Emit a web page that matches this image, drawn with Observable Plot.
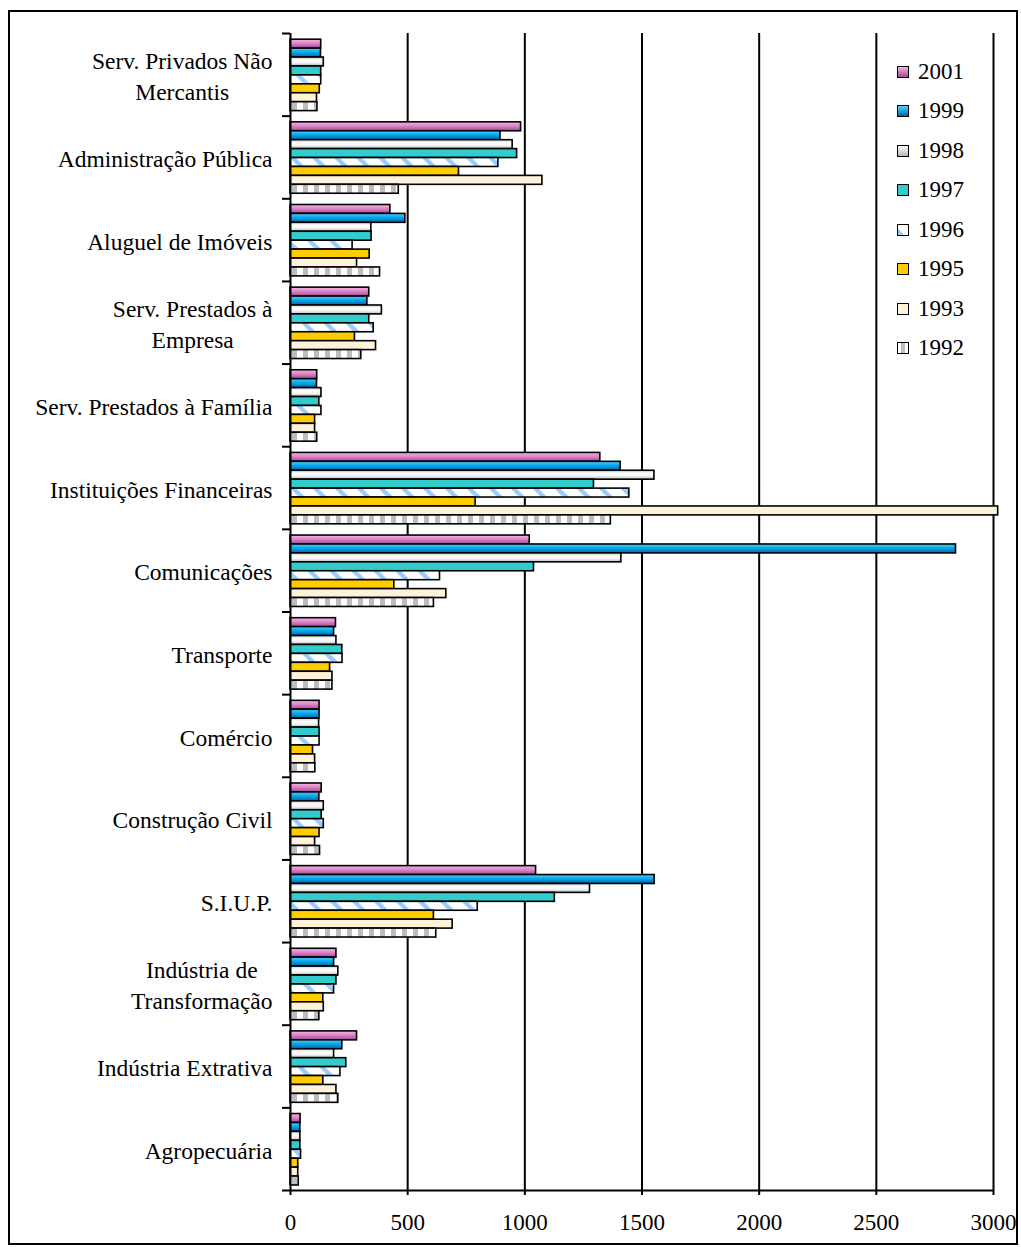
<!DOCTYPE html>
<html>
<head>
<meta charset="utf-8">
<script src="https://cdn.jsdelivr.net/npm/d3@7"></script>
<script src="https://cdn.jsdelivr.net/npm/@observablehq/plot@0.6"></script>
<style>
  body { margin: 0; background: #fff; }
  #wrap { position: relative; width: 1021px; height: 1247px; overflow: hidden;
          font-family: 'Liberation Serif', 'Times New Roman', serif; color: #000; }
  #frame { position: absolute; left: 8px; top: 10px; width: 1010px; height: 1235px;
           box-sizing: border-box; border: 2px solid #000; pointer-events: none; }
  #chart svg { position: absolute; left: 0; top: 0; }
  #legend { position: absolute; left: 897px; top: 52px; font-size: 23px;
            font-family: 'Liberation Serif', serif; }
  .item { display: flex; align-items: center; height: 39.5px; }
  .item span { font-family: 'Liberation Serif', serif; }
  .sw { width: 12px; height: 12px; border: 1.5px solid #000; box-sizing: border-box; margin-right: 9px; }
</style>
</head>
<body>
<div id="wrap">
  <div id="chart"></div>
  <div id="legend"></div>
  <div id="frame"></div>
</div>
<script>
// Sectors, listed top to bottom
const categories = [
  "Serv. Privados Não\nMercantis",
  "Administração Pública",
  "Aluguel de Imóveis",
  "Serv. Prestados à\nEmpresa",
  "Serv. Prestados à Família",
  "Instituições Financeiras",
  "Comunicações",
  "Transporte",
  "Comércio",
  "Construção Civil",
  "S.I.U.P.",
  "Indústria de\nTransformação",
  "Indústria Extrativa",
  "Agropecuária"
];

// Years, in the order the bars are stacked inside each sector
const years = ["2001", "1999", "1998", "1997", "1996", "1995", "1993", "1992"];

// One value per sector (same order as categories)
const v2001 = [131, 984, 426, 336, 114, 1322, 1021, 194, 124, 133, 1048, 196, 284, 43];
const v1999 = [130, 896, 490, 328, 113, 1409, 2840, 186, 124, 123, 1554, 186, 221, 42];
const v1998 = [142, 948, 345, 390, 132, 1553, 1412, 196, 122, 142, 1278, 204, 186, 42];
const v1997 = [131, 967, 346, 336, 123, 1295, 1039, 221, 124, 133, 1128, 196, 238, 42];
const v1996 = [131, 887, 265, 355, 132, 1446, 638, 222, 124, 142, 799, 186, 213, 45];
const v1995 = [125, 719, 338, 275, 105, 790, 443, 169, 96, 124, 612, 140, 140, 33];
const v1993 = [113, 1075, 284, 365, 105, 3020, 665, 179, 105, 105, 692, 142, 196, 33];
const v1992 = [115, 462, 382, 302, 114, 1367, 612, 179, 106, 126, 622, 123, 204, 35];

const seriesValues = {
  "2001": v2001, "1999": v1999, "1998": v1998, "1997": v1997,
  "1996": v1996, "1995": v1995, "1993": v1993, "1992": v1992
};

const xTicks = [0, 500, 1000, 1500, 2000, 2500, 3000];

// Fills: gradients and patterns are defined in <defs> below
const fills = {
  "2001": "url(#g2001)", "1999": "url(#g1999)", "1998": "url(#g1998)", "1997": "#33CCCC",
  "1996": "url(#p1996)", "1995": "#FFCC00", "1993": "#FFF2DA", "1992": "url(#p1992)"
};
const swatches = {
  "2001": "linear-gradient(#F4B8E2, #A24895)",
  "1999": "linear-gradient(#4FD0FF, #0068A8)",
  "1998": "linear-gradient(#ffffff, #b5b5b5)",
  "1997": "#33CCCC",
  "1996": "linear-gradient(225deg, #fff 70%, #99CCFF 70%)",
  "1995": "#FFCC00",
  "1993": "#FFF2DA",
  "1992": "linear-gradient(90deg, #fff 25%, #BDBDBD 25%, #BDBDBD 65%, #fff 65%)"
};

const serif = "'Liberation Serif', 'Times New Roman', serif";

// Each sector occupies one unit on y; its eight bars fill most of that unit
const barTop = 0.075, barH = 0.108;

const barMarks = years.map((yr, j) =>
  Plot.rectX(categories.map((c, i) => ({c, i, v: seriesValues[yr][i]})), {
    x1: 0,
    x2: "v",
    y1: d => d.i + barTop + j * barH,
    y2: d => d.i + barTop + (j + 1) * barH,
    fill: fills[yr],
    stroke: "#000",
    strokeWidth: 1.6
  })
);

const chart = Plot.plot({
  width: 1021,
  height: 1247,
  marginLeft: 290,
  marginRight: 28,
  marginTop: 33,
  marginBottom: 57,
  style: {fontFamily: serif, fontSize: "23px", color: "#000", background: "transparent", overflow: "visible"},
  x: {domain: [0, 3000], axis: null},
  y: {domain: [0, categories.length], reverse: true, axis: null},
  marks: [
    Plot.ruleX(xTicks.slice(1), {stroke: "#000", strokeWidth: 2}),
    ...barMarks,
    Plot.ruleX([0], {stroke: "#000", strokeWidth: 2}),
    Plot.ruleY([categories.length], {stroke: "#000", strokeWidth: 2}),
    Plot.axisX({ticks: xTicks, tickFormat: d3.format("d"), tickSize: 5, tickPadding: 18, strokeWidth: 2,
                label: null, fontSize: 23, fontFamily: serif, fontVariant: "normal"}),
    Plot.axisY({ticks: d3.range(categories.length + 1), tickFormat: () => "", tickSize: 8, strokeWidth: 2, label: null}),
    Plot.text(categories.map((c, i) => ({c, i})), {
      x: 0, y: d => d.i + 0.5, text: "c",
      textAnchor: "end", lineAnchor: "middle", lineHeight: 1.3,
      dx: -18, fontSize: 23.5, fontFamily: serif, fill: "#000"
    })
  ]
});

document.getElementById("chart").appendChild(chart);

// Gradient and pattern definitions for the bar fills
const defs = d3.select(chart).insert("defs", ":first-child");
function vgrad(id, stops) {
  const g = defs.append("linearGradient").attr("id", id)
    .attr("x1", 0).attr("y1", 0).attr("x2", 0).attr("y2", 1);
  stops.forEach(([o, c]) => g.append("stop").attr("offset", o).attr("stop-color", c));
}
vgrad("g2001", [[0, "#F4B8E2"], [0.45, "#DE86C9"], [1, "#A24895"]]);
vgrad("g1999", [[0, "#4FD0FF"], [0.45, "#05A8EC"], [1, "#0068A8"]]);
vgrad("g1998", [[0, "#CFCFCF"], [0.35, "#FFFFFF"], [0.65, "#F4F4F4"], [1, "#B5B5B5"]]);

const p96 = defs.append("pattern").attr("id", "p1996")
  .attr("patternUnits", "userSpaceOnUse").attr("width", 22).attr("height", 22);
p96.append("rect").attr("width", 22).attr("height", 22).attr("fill", "#fff");
p96.append("polygon").attr("points", "0,0 6,0 28,22 22,22").attr("fill", "#99CCFF");
p96.append("polygon").attr("points", "-22,0 -16,0 6,22 0,22").attr("fill", "#99CCFF");

const p92 = defs.append("pattern").attr("id", "p1992")
  .attr("patternUnits", "userSpaceOnUse").attr("width", 11).attr("height", 10);
p92.append("rect").attr("width", 11).attr("height", 10).attr("fill", "#fff");
p92.append("rect").attr("x", 6).attr("width", 5).attr("height", 10).attr("fill", "#BDBDBD");

// Two-line sector labels are centred on their widest line
chart.querySelectorAll('g[aria-label="text"] text').forEach(t => {
  const spans = t.querySelectorAll("tspan");
  if (spans.length > 1) {
    const w = Math.max(...Array.from(spans, s => s.getComputedTextLength()));
    t.setAttribute("text-anchor", "middle");
    spans.forEach(s => s.setAttribute("x", -w / 2));
  }
});

// Legend
const legend = d3.select("#legend");
years.forEach(yr => {
  const item = legend.append("div").attr("class", "item");
  item.append("div").attr("class", "sw").style("background", swatches[yr]);
  item.append("span").text(yr);
});
</script>
</body>
</html>
